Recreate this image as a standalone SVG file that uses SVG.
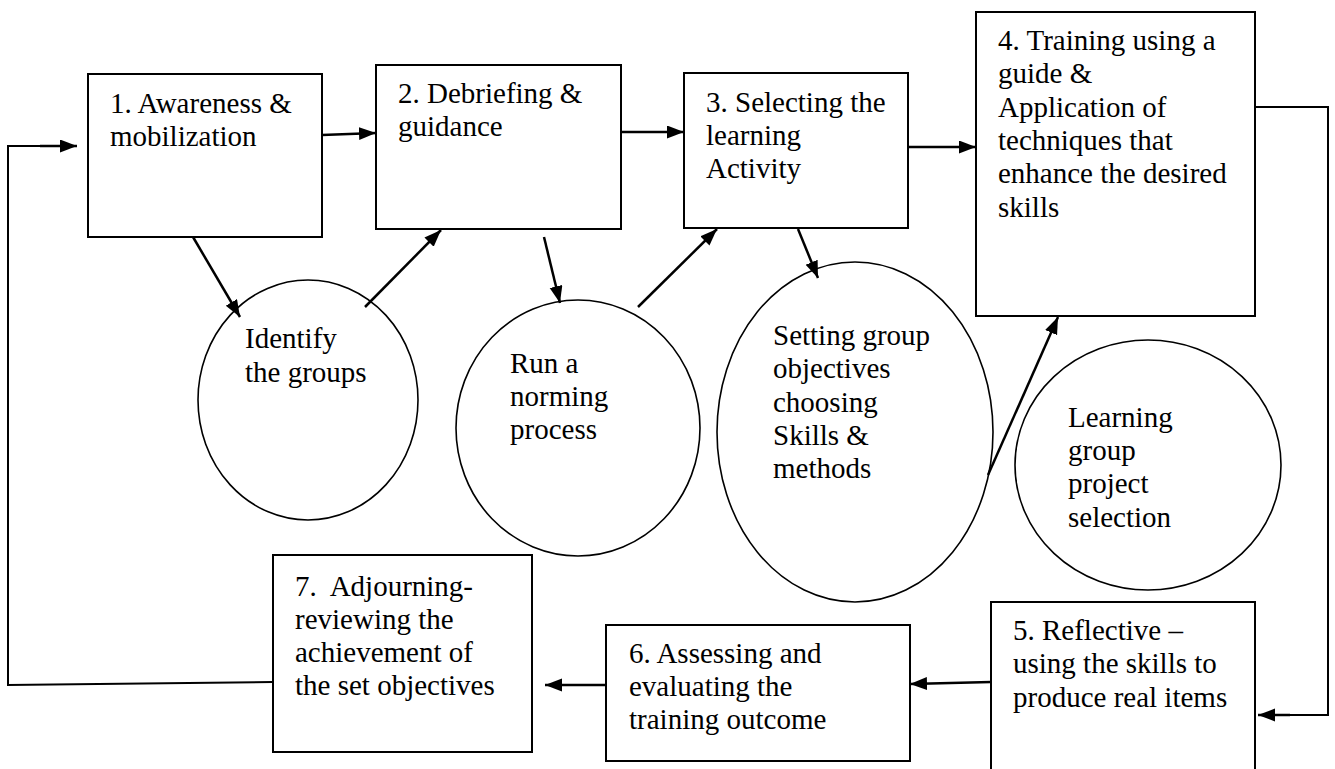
<svg xmlns="http://www.w3.org/2000/svg" width="1335" height="769" viewBox="0 0 1335 769">
<style>
.box{fill:#fff;stroke:#000;stroke-width:2}
.ell{fill:#fff;stroke:#000;stroke-width:1.6}
.t{font-family:'Liberation Serif',serif;font-size:29px;fill:#000;white-space:pre}
.c{fill:none;stroke:#000;stroke-width:2.5;marker-end:url(#ah)}
.cn{fill:none;stroke:#000;stroke-width:2}
</style>
<defs>
<marker id="ah" markerUnits="userSpaceOnUse" markerWidth="18" markerHeight="14" refX="17" refY="6.5" orient="auto">
<path d="M0,0 L17,6.5 L0,13 z" fill="#000"/>
</marker>
</defs>
<rect width="1335" height="769" fill="#fff"/>
<g font-family="Liberation Serif, serif" font-size="29">
<g id="n1"><rect class="box" x="88" y="74" width="234" height="163"/><text class="t" x="110" y="113">1. Awareness &amp;</text><text class="t" x="110" y="146">mobilization</text></g>
<g id="n2"><rect class="box" x="376" y="65" width="245" height="164"/><text class="t" x="398" y="103">2. Debriefing &amp;</text><text class="t" x="398" y="136">guidance</text></g>
<g id="n3"><rect class="box" x="684" y="73" width="224" height="155"/><text class="t" x="706" y="112">3. Selecting the</text><text class="t" x="706" y="145">learning</text><text class="t" x="706" y="178">Activity</text></g>
<g id="n4"><rect class="box" x="976" y="12" width="279" height="304"/><text class="t" x="998" y="50">4. Training using a</text><text class="t" x="998" y="83">guide &amp;</text><text class="t" x="998" y="117">Application of</text><text class="t" x="998" y="150">techniques that</text><text class="t" x="998" y="183">enhance the desired</text><text class="t" x="998" y="217">skills</text></g>
<g id="n5"><rect class="box" x="991" y="602" width="264" height="190"/><text class="t" x="1013" y="640">5. Reflective –</text><text class="t" x="1013" y="673">using the skills to</text><text class="t" x="1013" y="707">produce real items</text></g>
<g id="n6"><rect class="box" x="606" y="625" width="304" height="136"/><text class="t" x="629" y="663">6. Assessing and</text><text class="t" x="629" y="696">evaluating the</text><text class="t" x="629" y="729">training outcome</text></g>
<g id="n7"><rect class="box" x="273" y="555" width="259" height="197"/><text class="t" x="295" y="596">7.  Adjourning-</text><text class="t" x="295" y="629">reviewing the</text><text class="t" x="295" y="662">achievement of</text><text class="t" x="295" y="695">the set objectives</text></g>
<g id="e1"><ellipse class="ell" cx="308" cy="400" rx="110" ry="120"/><text class="t" x="245" y="348">Identify</text><text class="t" x="245" y="382">the groups</text></g>
<g id="e2"><ellipse class="ell" cx="578" cy="428" rx="122" ry="128"/><text class="t" x="510" y="373">Run a</text><text class="t" x="510" y="406">norming</text><text class="t" x="510" y="439">process</text></g>
<g id="e3"><ellipse class="ell" cx="855" cy="432" rx="138" ry="170"/><text class="t" x="773" y="345">Setting group</text><text class="t" x="773" y="378">objectives</text><text class="t" x="773" y="412">choosing</text><text class="t" x="773" y="445">Skills &amp;</text><text class="t" x="773" y="478">methods</text></g>
<g id="e4"><ellipse class="ell" cx="1148" cy="465" rx="133" ry="125"/><text class="t" x="1068" y="427">Learning</text><text class="t" x="1068" y="460">group</text><text class="t" x="1068" y="493">project</text><text class="t" x="1068" y="527">selection</text></g>
</g>
<g id="connectors">
<line class="c" x1="322" y1="135" x2="376" y2="133"/>
<line class="c" x1="621" y1="132" x2="684" y2="132"/>
<line class="c" x1="908" y1="147" x2="976" y2="147"/>
<line class="c" x1="193" y1="237" x2="240" y2="317"/>
<line class="c" x1="365" y1="307" x2="441" y2="230"/>
<line class="c" x1="544" y1="237" x2="560" y2="303"/>
<line class="c" x1="638" y1="307" x2="717" y2="229"/>
<line class="c" x1="798" y1="229" x2="818" y2="278"/>
<line class="c" x1="988" y1="475" x2="1058" y2="317"/>
<polyline class="cn" points="1255,107 1328,107 1328,715 1275,715"/>
<line class="c" x1="1290" y1="715" x2="1258" y2="715"/>
<line class="c" x1="991" y1="682" x2="910" y2="684"/>
<line class="c" x1="606" y1="685" x2="545" y2="685"/>
<polyline class="cn" points="273,682 8,685 8,146 60,146"/>
<line class="c" x1="40" y1="146" x2="77" y2="146"/>
</g>
</svg>
